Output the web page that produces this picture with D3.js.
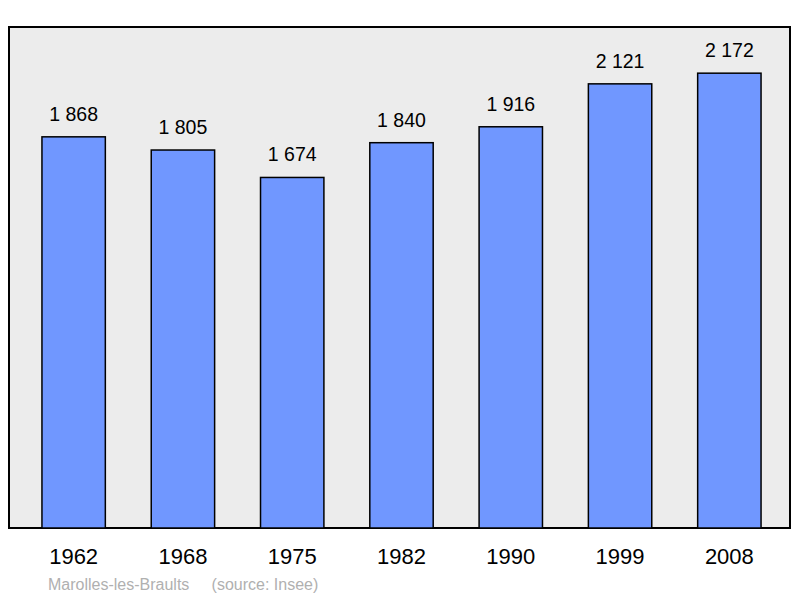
<!DOCTYPE html>
<html><head><meta charset="utf-8">
<script src="https://cdn.jsdelivr.net/npm/d3@7"></script>
<style>body{margin:0;background:#fff}</style>
</head><body>
<svg id="chart" width="800" height="598"></svg>
<script>
var years = ["1962","1968","1975","1982","1990","1999","2008"];
var population = [1868,1805,1674,1840,1916,2121,2172];
var fmt = function(v){ return d3.format(",")(v).replace(",", " "); };

var svg = d3.select("#chart");

//plot frame
svg.append("rect")
  .attr("x", 9).attr("y", 27)
  .attr("width", 781).attr("height", 501)
  .attr("fill", "#ececec")
  .attr("stroke", "#000").attr("stroke-width", 2);

var x = d3.scaleBand()
  .domain(years)
  .range([19, 784])
  .paddingInner(0.42)
  .paddingOuter(0.21);

var y = d3.scaleLinear()
  .domain([0, 2392.5])
  .range([528, 27]);

svg.selectAll(".bar")
  .data(years)
  .enter().append("rect")
  .attr("class", "bar")
  .attr("x", d => x(d))
  .attr("y", (d, i) => y(population[i]))
  .attr("width", x.bandwidth())
  .attr("height", (d, i) => 528 - y(population[i]))
  .attr("fill", "#7097ff")
  .attr("stroke", "#000").attr("stroke-width", 1.5);

//value labels
svg.selectAll(".val")
  .data(years)
  .enter().append("text")
  .attr("x", d => x(d) + x.bandwidth() / 2)
  .attr("y", (d, i) => y(population[i]) - 16)
  .attr("text-anchor", "middle")
  .style("font", "19.5px 'Liberation Sans', Arial, sans-serif")
  .text((d, i) => fmt(population[i]));

//year labels
svg.selectAll(".yr")
  .data(years)
  .enter().append("text")
  .attr("x", d => x(d) + x.bandwidth() / 2)
  .attr("y", 564)
  .attr("text-anchor", "middle")
  .style("font", "22px 'Liberation Sans', Arial, sans-serif")
  .text(d => d);

svg.append("text")
  .attr("x", 48).attr("y", 590)
  .attr("fill", "#b0b0b0")
  .style("font", "16px 'Liberation Sans', Arial, sans-serif")
  .style("white-space", "pre")
  .attr("xml:space", "preserve")
  .text("Marolles-les-Brault      (source: Insee)".replace("Brault ", "Braults"));
</script>
</body></html>
